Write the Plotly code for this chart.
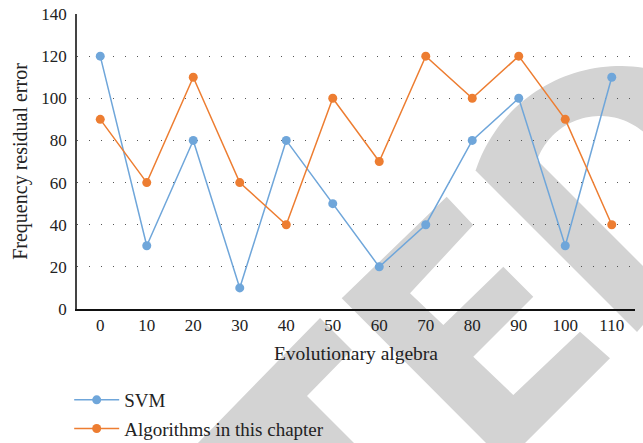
import math
import plotly.graph_objects as go

# Evolutionary algebra (x categories) and frequency residual error per method
generations = ["0", "10", "20", "30", "40", "50", "60", "70", "80", "90", "100", "110"]
svm_error = [120, 30, 80, 10, 80, 50, 20, 40, 80, 100, 30, 110]
chapter_error = [90, 60, 110, 60, 40, 100, 70, 120, 100, 120, 90, 40]
y_ticks = [0, 20, 40, 60, 80, 100, 120, 140]

W, H = 643, 443
ML, MR, MT, MB = 77, 8, 14, 134
PW, PH = W - ML - MR, H - MT - MB

FONT = "Liberation Serif"
BLUE = "#6FA6DA"
ORANGE = "#ED7D31"
GREY = "#d3d3d3"
TEXT = "#222222"


def to_paper(x, y):
    return (x - ML) / PW, (H - MB - y) / PH


def poly_path(points):
    parts = []
    for i, (x, y) in enumerate(points):
        u, v = to_paper(x, y)
        parts.append(("M" if i == 0 else "L") + f"{u:.4f},{v:.4f}")
    return " ".join(parts) + " Z"


def arc(cx, cy, r, a0, a1, n=40):
    pts = []
    for i in range(n + 1):
        a = math.radians(a0 + (a1 - a0) * i / n)
        pts.append((cx + r * math.cos(a), cy - r * math.sin(a)))
    return pts


# Grey background stamp letters (pixel geometry, converted to paper units)
letter_t = [(320, 318), (352, 350), (307, 396), (354, 443), (198, 443)]
letter_e = [(341.7, 298.3), (446.7, 196.7), (473.3, 225), (410, 293.3),
            (443.3, 325), (503.3, 266.7), (533.3, 296.7), (473.3, 356.7),
            (513.3, 395), (580, 331.7), (610, 358.3), (525, 443), (486, 443)]
letter_c = ([(475, 170)] + arc(620, 218, 152, 161.7, 81.3)
            + [(643, 66)] + arc(600, 183, 67, 50, 160)
            + [(537, 160), (643, 266), (643, 325), (637, 332)])

shapes = [
    dict(type="path", xref="paper", yref="paper", path=poly_path(p),
         fillcolor=GREY, line=dict(width=0), layer="below")
    for p in (letter_t, letter_e, letter_c)
]

fig = go.Figure()
fig.add_trace(go.Scatter(
    x=generations, y=svm_error, name="SVM", mode="lines+markers",
    line=dict(color=BLUE, width=1.5), marker=dict(color=BLUE, size=9),
    legendgroup="svm",
))
fig.add_trace(go.Scatter(
    x=generations, y=chapter_error, name="Algorithms in this chapter",
    mode="lines+markers",
    line=dict(color=ORANGE, width=1.5), marker=dict(color=ORANGE, size=9),
    legendgroup="chapter",
))

fig.update_layout(
    width=W, height=H,
    margin=dict(l=ML, r=MR, t=MT, b=MB, autoexpand=False),
    paper_bgcolor="white", plot_bgcolor="rgba(0,0,0,0)",
    font=dict(family=FONT, size=17, color=TEXT),
    shapes=shapes,
    showlegend=True,
    legend=dict(xref="paper", yref="container",
                x=-0.014, y=1 - 381 / H, xanchor="left", yanchor="top",
                orientation="v", tracegroupgap=1, itemwidth=45,
                font=dict(family=FONT, size=19, color=TEXT),
                bgcolor="rgba(0,0,0,0)"),
    xaxis=dict(
        type="category", range=[-0.5, 11.5],
        showline=True, linecolor="#111111", linewidth=1.5,
        showgrid=False, ticks="", zeroline=False,
        tickfont=dict(family=FONT, size=17, color=TEXT),
        title=dict(text="Evolutionary algebra", standoff=12,
                   font=dict(family=FONT, size=19.5, color=TEXT)),
    ),
    yaxis=dict(
        range=[0, 140], tickvals=y_ticks,
        showline=True, linecolor="#444444", linewidth=1.5,
        showgrid=True, gridcolor="#555555", gridwidth=1.3,
        griddash="1.3px,10.7px", zeroline=False, ticks="",
        ticklabelstandoff=5,
        tickfont=dict(family=FONT, size=17, color=TEXT),
        title=dict(text="Frequency residual error", standoff=8,
                   font=dict(family=FONT, size=20, color=TEXT)),
    ),
)

fig.write_html("out.html")
